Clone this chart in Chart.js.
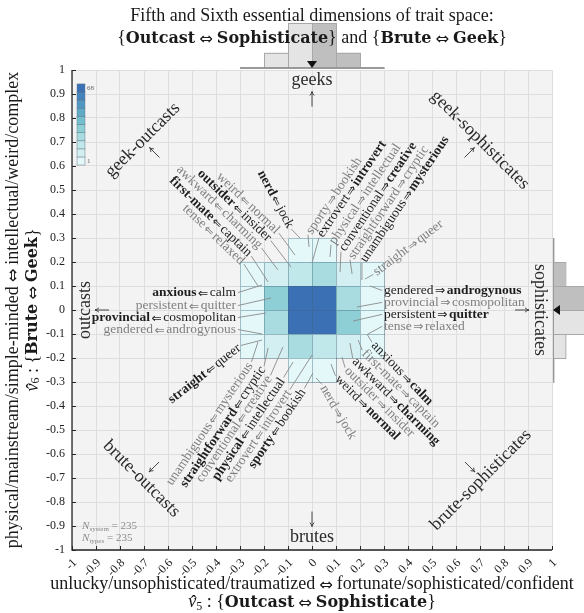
<!DOCTYPE html>
<html><head><meta charset="utf-8">
<script src="https://cdn.jsdelivr.net/npm/chart.js@4.4.1/dist/chart.umd.min.js"></script>
<style>html,body{margin:0;padding:0;background:#fff;overflow:hidden}canvas{display:block}</style>
</head><body><canvas id="c" width="584" height="613"></canvas>
<script>
// ---------------- data ----------------
const columnEdges = [-0.3, -0.2, -0.1, 0, 0.1, 0.2];   // left edge of each heatmap column
const rowEdges = [0.2, 0.1, 0, -0.1, -0.2, -0.3];     // bottom edge of each heatmap row (top to bottom)
const binWidth = 0.1;
const cellCounts = [
  [0, 0, 1, 1, 0, 0],
  [1, 2, 3, 4, 2, 1],
  [1, 7, 62, 68, 5, 1],
  [1, 5, 58, 55, 6, 1],
  [1, 2, 4, 3, 2, 1],
  [0, 0, 1, 1, 0, 0]
];
const histTop = [1, 32, 95, 95, 32, 1];     // counts per column (x marginal)
const histRight = [1, 26, 95, 95, 26, 1];   // counts per row (y marginal, top to bottom)
const meanX = 0.0, meanY = 0.0;
const colorbarRange = [1, 68];
const nSystem = 235, nTypes = 235;
const tickValues = [-1, -0.9, -0.8, -0.7, -0.6, -0.5, -0.4, -0.3, -0.2, -0.1, 0, 0.1, 0.2, 0.3, 0.4, 0.5, 0.6, 0.7, 0.8, 0.9, 1];
const tickLabels = ['-1', '-0.9', '-0.8', '-0.7', '-0.6', '-0.5', '-0.4', '-0.3', '-0.2', '-0.1', '0', '0.1', '0.2', '0.3', '0.4', '0.5', '0.6', '0.7', '0.8', '0.9', '1'];
const edgeNames = ['geeks', 'brutes', 'outcasts', 'sophisticates'];
const cornerNames = ['geek-outcasts', 'geek-sophisticates', 'brute-outcasts', 'brute-sophisticates'];
// trait labels: text (**bold**), emphasis (1 dark / 0 gray)
const traitTexts = [
  ['**anxious**⇐calm', 1], ['persistent⇐quitter', 0], ['**provincial**⇐cosmopolitan', 1], ['gendered⇐androgynous', 0],
  ['gendered⇒**androgynous**', 1], ['provincial⇒cosmopolitan', 0], ['persistent⇒**quitter**', 1], ['tense⇒relaxed', 0],
  ['weird⇐normal', 0], ['**outsider**⇐insider', 1], ['awkward⇐charming', 0], ['**first-mate**⇐captain', 1], ['tense⇐relaxed', 0], ['**nerd**⇐jock', 1],
  ['sporty⇒bookish', 0], ['extrovert⇒**introvert**', 1], ['physical⇒intellectual', 0], ['conventional⇒**creative**', 1], ['straightforward⇒cryptic', 0], ['unambiguous⇒**mysterious**', 1], ['straight⇒queer', 0],
  ['**straight**⇐queer', 1], ['unambiguous⇐mysterious', 0], ['**straightforward**⇐cryptic', 1], ['conventional⇐creative', 0], ['**physical**⇐intellectual', 1], ['extrovert⇐introvert', 0], ['**sporty**⇐bookish', 1],
  ['nerd⇒jock', 0], ['weird⇒**normal**', 1], ['outsider⇒insider', 0], ['awkward⇒**charming**', 1], ['first-mate⇒captain', 0], ['anxious⇒**calm**', 1]
];
// ---------------- layout of annotations (data coords) ----------------
// [x, y, angle, align, innerEnd, targetX, targetY]
const traitLayout = [
  [-0.317, 0.058, 0, 'right', 'end', -0.208, 0.104],
  [-0.317, 0.004, 0, 'right', 'end', -0.171, 0.05],
  [-0.317, -0.046, 0, 'right', 'end', -0.192, -0.0125],
  [-0.317, -0.096, 0, 'right', 'end', -0.208, -0.1],
  [0.3, 0.067, 0, 'left', 'start', 0.242, 0.1],
  [0.3, 0.017, 0, 'left', 'start', 0.1875, 0.0125],
  [0.3, -0.033, 0, 'left', 'start', 0.171, -0.046],
  [0.3, -0.083, 0, 'left', 'start', 0.233, -0.1],
  [-0.40, 0.553, 44, 'left', 'end', -0.071, 0.229],
  [-0.479, 0.5655, 44, 'left', 'end', -0.0875, 0.179],
  [-0.5665, 0.582, 44, 'left', 'end', -0.142, 0.167],
  [-0.596, 0.536, 44, 'left', 'end', -0.183, 0.117],
  [-0.5415, 0.42, 44, 'left', 'end', -0.225, 0.1],
  [-0.227, 0.571, 62, 'left', 'end', -0.05, 0.3],
  [0.0, 0.3125, -56, 'left', 'start', -0.0125, 0.2625],
  [0.046, 0.3, -56, 'left', 'start', 0.0, 0.196],
  [0.096, 0.271, -56, 'left', 'start', 0.075, 0.221],
  [0.1375, 0.242, -56, 'left', 'start', 0.117, 0.158],
  [0.175, 0.208, -56, 'left', 'start', 0.167, 0.15],
  [0.225, 0.196, -56, 'left', 'start', 0.208, 0.125],
  [0.271, 0.142, -37, 'left', 'start', 0.221, 0.129],
  [-0.583, -0.3905, -38, 'left', 'end', -0.208, -0.125],
  [-0.583, -0.733, -56, 'left', 'end', -0.225, -0.133],
  [-0.525, -0.7415, -56, 'left', 'end', -0.183, -0.158],
  [-0.458, -0.721, -56, 'left', 'end', -0.121, -0.154],
  [-0.3915, -0.712, -56, 'left', 'end', -0.079, -0.217],
  [-0.337, -0.721, -56, 'left', 'end', 0.0, -0.1875],
  [-0.2405, -0.662, -56, 'left', 'end', 0.004, -0.2625],
  [0.033, -0.325, 60, 'left', 'start', 0.017, -0.283],
  [0.0933, -0.2904, 45, 'left', 'start', 0.079, -0.225],
  [0.1333, -0.2563, 45, 'left', 'start', 0.125, -0.196],
  [0.1654, -0.2179, 45, 'left', 'start', 0.158, -0.1375],
  [0.2054, -0.1842, 45, 'left', 'start', 0.192, -0.125],
  [0.2450, -0.1504, 46, 'left', 'start', 0.229, -0.1]
];

const FF = '"Liberation Serif","DejaVu Serif",serif';
const ARROWF = '"DejaVu Sans",sans-serif';
const BOLDF = '"DejaVu Serif",serif';
const fnt = (s, b, i, f) => `${i ? 'italic ' : ''}${b ? 'bold ' : ''}${s}px ${f || FF}`;
function parse(str, size, color) {
  const out = [];
  str.split('**').forEach((t, k) => {
    t.split(/([⇐⇒⇔])/).forEach(p => {
      if (!p.length) return;
      if (/[⇐⇒⇔]/.test(p)) out.push({ t: p, s: size * 0.9, f: ARROWF, pad: 1.5, c: color, dy: 0.5 });
      else out.push({ t: p, s: size, b: k % 2 === 1, c: color });
    });
  });
  return out;
}
function rw(ctx, r) { ctx.font = fnt(r.s, r.b, r.i, r.f); return ctx.measureText(r.t).width + 2 * (r.pad || 0); }
function measure(ctx, runs) { let w = 0; for (const r of runs) w += rw(ctx, r); return w; }
function drawRuns(ctx, runs, x, y, ang, align, base) {
  ctx.save(); ctx.translate(x, y); ctx.rotate(ang * Math.PI / 180);
  ctx.textAlign = 'left'; ctx.textBaseline = base || 'alphabetic';
  const w = measure(ctx, runs);
  let cx = align === 'left' ? 0 : (align === 'right' ? -w : -w / 2);
  for (const r of runs) {
    const ww = rw(ctx, r);
    ctx.font = fnt(r.s, r.b, r.i, r.f); ctx.fillStyle = r.c;
    ctx.fillText(r.t, cx + (r.pad || 0), r.dy || 0);
    if (r.hat) {
      ctx.font = fnt(r.s, false, false);
      const hw = ctx.measureText('\u02C6').width;
      ctx.fillText('\u02C6', cx + ww / 2 - hw / 2 + 1.5, (r.dy || 0) + 1);
    }
    cx += ww;
  }
  ctx.restore();
  return w;
}
function arrow(ctx, cx, cy, ang, len) {
  const th = ang * Math.PI / 180, dx = Math.cos(th), dy = Math.sin(th);
  const tx = cx + dx * len / 2, ty = cy + dy * len / 2;
  ctx.save(); ctx.strokeStyle = '#333'; ctx.lineWidth = 0.9;
  ctx.beginPath(); ctx.moveTo(cx - dx * len / 2, cy - dy * len / 2); ctx.lineTo(tx, ty); ctx.stroke();
  const h = 4.5, a1 = th + Math.PI - 0.5, a2 = th + Math.PI + 0.5;
  ctx.beginPath(); ctx.moveTo(tx + Math.cos(a1) * h, ty + Math.sin(a1) * h); ctx.quadraticCurveTo(tx - dx * 1.5, ty - dy * 1.5, tx, ty);
  ctx.quadraticCurveTo(tx - dx * 1.5, ty - dy * 1.5, tx + Math.cos(a2) * h, ty + Math.sin(a2) * h); ctx.stroke();
  ctx.restore();
}
const palette = ['#e4f8f9', '#d3eff1', '#c0e7ea', '#a9dce0', '#8ecfd6', '#72bfcd', '#5eabc6', '#5097c1', '#4483bb', '#3b71b4'];
function colorFor(v) {
  const f = Math.log(v / colorbarRange[0]) / Math.log(colorbarRange[1] / colorbarRange[0]);
  return palette[Math.max(0, Math.min(palette.length - 1, Math.floor(f * palette.length)))];
}

const art = {
  id: 'art',
  beforeDraw(chart) {
    const { ctx, chartArea: a, scales: { x, y } } = chart;
    ctx.save();
    ctx.fillStyle = '#fff'; ctx.fillRect(0, 0, chart.width, chart.height);
    ctx.fillStyle = '#f3f3f3'; ctx.fillRect(a.left, a.top, a.right - a.left, a.bottom - a.top);
    // top histogram
    const k = 45 / 95, base = a.top - 2;
    columnEdges.forEach((e, i) => {
      const x0 = x.getPixelForValue(e), x1 = x.getPixelForValue(e + binWidth), h = histTop[i] * k;
      ctx.fillStyle = e < 0 ? '#e4e4e4' : '#bfbfbf';
      ctx.strokeStyle = '#a8a8a8'; ctx.lineWidth = 1;
      ctx.fillRect(x0, base - h, x1 - x0, h); ctx.strokeRect(x0 + 0.5, base - h + 0.5, x1 - x0, h);
    });
    ctx.strokeStyle = '#999'; ctx.lineWidth = 2;
    ctx.beginPath(); ctx.moveTo(x.getPixelForValue(columnEdges[0]), base); ctx.lineTo(x.getPixelForValue(columnEdges[5] + binWidth), base); ctx.stroke();
    let mx = x.getPixelForValue(meanX);
    ctx.fillStyle = '#111'; ctx.beginPath(); ctx.moveTo(mx - 5, base - 7); ctx.lineTo(mx + 5, base - 7); ctx.lineTo(mx, base); ctx.closePath(); ctx.fill();
    // right histogram
    const rb = a.right + 1;
    rowEdges.forEach((e, i) => {
      const y0 = y.getPixelForValue(e + binWidth), y1 = y.getPixelForValue(e), w = histRight[i] * k;
      ctx.fillStyle = e < 0 ? '#e4e4e4' : '#bfbfbf';
      ctx.strokeStyle = '#a8a8a8'; ctx.lineWidth = 1;
      ctx.fillRect(rb, y0, w, y1 - y0); ctx.strokeRect(rb + 0.5, y0 + 0.5, w, y1 - y0);
    });
    ctx.strokeStyle = '#999'; ctx.lineWidth = 2;
    ctx.beginPath(); ctx.moveTo(rb, y.getPixelForValue(rowEdges[0] + binWidth)); ctx.lineTo(rb, y.getPixelForValue(rowEdges[5])); ctx.stroke();
    const my = y.getPixelForValue(meanY);
    ctx.fillStyle = '#111'; ctx.beginPath(); ctx.moveTo(rb + 7, my - 5); ctx.lineTo(rb + 7, my + 5); ctx.lineTo(rb, my); ctx.closePath(); ctx.fill();
    ctx.restore();
  },
  afterDatasetsDraw(chart) {
    const { ctx, chartArea: a, scales: { x, y } } = chart;
    ctx.save();
    // heatmap
    rowEdges.forEach((ye, r) => columnEdges.forEach((xe, c) => {
      const v = cellCounts[r][c];
      if (!v) return;
      const x0 = x.getPixelForValue(xe), x1 = x.getPixelForValue(xe + binWidth);
      const y0 = y.getPixelForValue(ye + binWidth), y1 = y.getPixelForValue(ye);
      ctx.fillStyle = colorFor(v); ctx.fillRect(x0, y0, x1 - x0, y1 - y0);
      ctx.strokeStyle = 'rgba(60,100,120,0.40)'; ctx.lineWidth = 1;
      ctx.strokeRect(Math.round(x0) + 0.5, Math.round(y0) + 0.5, x1 - x0, y1 - y0);
    }));
    // colorbar
    const cbX0 = x.getPixelForValue(-0.979), cbX1 = x.getPixelForValue(-0.946);
    const cbT = y.getPixelForValue(0.942), cbB = y.getPixelForValue(0.604);
    const n = palette.length, ch = (cbB - cbT) / n;
    for (let i = 0; i < n; i++) {
      const yy = cbB - (i + 1) * ch;
      ctx.fillStyle = palette[i]; ctx.fillRect(cbX0, yy, cbX1 - cbX0, ch);
      ctx.strokeStyle = 'rgba(90,110,130,0.55)'; ctx.lineWidth = 0.8; ctx.strokeRect(cbX0, yy, cbX1 - cbX0, ch);
    }
    ctx.fillStyle = '#666'; ctx.font = fnt(7); ctx.textBaseline = 'middle'; ctx.textAlign = 'left';
    ctx.fillText(String(colorbarRange[1]), cbX1 + 2, cbT + ch / 2);
    ctx.fillText(String(colorbarRange[0]), cbX1 + 2, cbB - ch / 2);
    // trait labels
    traitTexts.forEach(([txt, dark], i) => {
      const [lx, ly, ang, align, inner, tx, ty] = traitLayout[i];
      const runs = parse(txt, 13.5, dark ? '#1e1e1e' : '#808080');
      const px = x.getPixelForValue(lx), py = y.getPixelForValue(ly);
      const w = drawRuns(ctx, runs, px, py, ang, align, 'alphabetic');
      const th = ang * Math.PI / 180, d = [Math.cos(th), Math.sin(th)], up = [Math.sin(th), -Math.cos(th)];
      let s;
      if (inner === 'start') s = (align === 'left' ? 0 : -w) - 2; else s = (align === 'left' ? w : 0) + 2;
      const ix = px + d[0] * s + up[0] * 3.5, iy = py + d[1] * s + up[1] * 3.5;
      ctx.strokeStyle = '#8a8a8a'; ctx.lineWidth = 0.9;
      ctx.beginPath(); ctx.moveTo(ix, iy); ctx.lineTo(x.getPixelForValue(tx), y.getPixelForValue(ty)); ctx.stroke();
    });
    // edge labels and arrows
    const big = (t, vx, vy, ang) => drawRuns(ctx, [{ t, s: 18, c: '#2a2a2a' }], x.getPixelForValue(vx), y.getPixelForValue(vy), ang, 'center', 'middle');
    const arr = (vx, vy, ang, len) => arrow(ctx, x.getPixelForValue(vx), y.getPixelForValue(vy), ang, len);
    big(edgeNames[0], 0, 0.958, 0); arr(0, 0.879, -90, 15);
    big(edgeNames[1], 0, -0.946, 0); arr(0, -0.871, 90, 15);
    big(edgeNames[2], -0.946, 0, -90); arr(-0.875, 0, 180, 14);
    big(edgeNames[3], 0.95, 0, 90); arr(0.875, 0, 0, 14);
    big(cornerNames[0], -0.705, 0.708, -45); arr(-0.656, 0.656, -135, 14);
    big(cornerNames[1], 0.70, 0.708, 45); arr(0.656, 0.656, -45, 14);
    big(cornerNames[2], -0.71, -0.704, 45); arr(-0.658, -0.654, 135, 14);
    big(cornerNames[3], 0.704, -0.708, -45); arr(0.658, -0.654, 45, 14);
    // N labels
    const g = '#8a8a8a';
    drawRuns(ctx, [{ t: 'N', s: 11, i: 1, c: g }, { t: 'system', s: 7, c: g, dy: 2 }, { t: ' = ' + nSystem, s: 11, c: g }], x.getPixelForValue(-0.958), y.getPixelForValue(-0.9125), 0, 'left');
    drawRuns(ctx, [{ t: 'N', s: 11, i: 1, c: g }, { t: 'types', s: 7, c: g, dy: 2 }, { t: ' = ' + nTypes, s: 11, c: g }], x.getPixelForValue(-0.958), y.getPixelForValue(-0.9625), 0, 'left');
    ctx.restore();
  },
  afterDraw(chart) {
    const { ctx, chartArea: a, scales: { x, y } } = chart;
    ctx.save();
    ctx.strokeStyle = '#262626'; ctx.lineWidth = 1.3;
    ctx.beginPath(); ctx.moveTo(a.left, a.top); ctx.lineTo(a.left, a.bottom); ctx.lineTo(a.right, a.bottom); ctx.stroke();
    ctx.lineWidth = 1;
    tickValues.forEach((v, i) => {
      const px = Math.round(x.getPixelForValue(v)) + 0.5, py = Math.round(y.getPixelForValue(v)) + 0.5;
      ctx.beginPath(); ctx.moveTo(px, a.bottom); ctx.lineTo(px, a.bottom - 4); ctx.stroke();
      ctx.beginPath(); ctx.moveTo(a.left, py); ctx.lineTo(a.left + 4, py); ctx.stroke();
      drawRuns(ctx, [{ t: tickLabels[i], s: 12, c: '#222' }], a.left - 7, y.getPixelForValue(v), 0, 'right', 'middle');
      drawRuns(ctx, [{ t: tickLabels[i], s: 12, c: '#222' }], x.getPixelForValue(v) + 3, a.bottom + 11, -45, 'right', 'middle');
    });
    // titles
    const T = '#1a1a1a', S = 18, B = 16;
    const mk = (parts) => parts.map(p => typeof p === 'string'
      ? (/^[⇐⇒⇔]$/.test(p) ? { t: p, s: S * 0.9, f: ARROWF, pad: 4, c: T, dy: 0.5 } : { t: p, s: S, c: T })
      : Object.assign({ s: B, b: 1, f: BOLDF, c: T }, p));
    drawRuns(ctx, mk(['Fifth and Sixth essential dimensions of trait space:']), 312, 21, 0, 'center');
    drawRuns(ctx, mk(['{', { t: 'Outcast' }, '⇔', { t: 'Sophisticate' }, '} and {', { t: 'Brute' }, '⇔', { t: 'Geek' }, '}']), 312, 43, 0, 'center');
    const cx = (a.left + a.right) / 2, cy = (a.top + a.bottom) / 2;
    drawRuns(ctx, mk(['unlucky/unsophisticated/traumatized', '⇔', 'fortunate/sophisticated/confident']), cx, 589, 0, 'center');
    drawRuns(ctx, mk([{ t: 'v', s: S, b: 0, i: 1, hat: 1, f: FF }, { t: '5', s: 12, b: 0, f: FF, dy: 3 }, ' : {', { t: 'Outcast' }, '⇔', { t: 'Sophisticate' }, '}']), cx, 607, 0, 'center');
    drawRuns(ctx, mk(['physical/mainstream/simple-minded', '⇔', 'intellectual/weird/complex']), 13, cy, -90, 'center', 'middle');
    drawRuns(ctx, mk([{ t: 'v', s: S, b: 0, i: 1, hat: 1, f: FF }, { t: '6', s: 12, b: 0, f: FF, dy: 3 }, ' : {', { t: 'Brute' }, '⇔', { t: 'Geek' }, '}']), 33, cy, -90, 'center', 'middle');
    ctx.restore();
  }
};

new Chart(document.getElementById('c'), {
  type: 'scatter',
  data: { datasets: [{ data: [], pointRadius: 0 }] },
  options: {
    responsive: false, animation: false, devicePixelRatio: 1,
    layout: { padding: { left: 0, right: 32, top: 70, bottom: 0 } },
    plugins: { legend: { display: false }, tooltip: { enabled: false } },
    scales: {
      x: {
        type: 'linear', min: -1, max: 1,
        afterBuildTicks: s => { s.ticks = tickValues.map(v => ({ value: v })); },
        afterFit: s => { s.height = 63; },
        ticks: { display: false }, grid: { color: '#dedede', drawTicks: false }, border: { display: false }
      },
      y: {
        type: 'linear', min: -1, max: 1,
        afterBuildTicks: s => { s.ticks = tickValues.map(v => ({ value: v })); },
        afterFit: s => { s.width = 72; },
        ticks: { display: false }, grid: { color: '#dedede', drawTicks: false }, border: { display: false }
      }
    }
  },
  plugins: [art]
});
</script>
</body></html>
